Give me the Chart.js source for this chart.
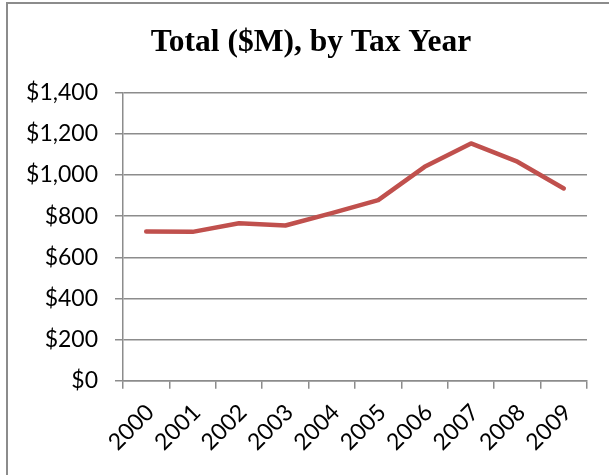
<!DOCTYPE html>
<html>
<head>
<meta charset="utf-8">
<script src="https://cdn.jsdelivr.net/npm/chart.js@4"></script>
<style>
  html, body { margin: 0; padding: 0; background: #fff; overflow: hidden; }
  #wrap { position: relative; width: 609px; height: 475px; }
  #frame { position: absolute; left: 6px; top: 2px; width: 640px; height: 500px; border: 2px solid #8c8c8c; box-sizing: border-box; }
  canvas { position: absolute; left: 0; top: 0; }
</style>
</head>
<body>
<div id="wrap">
  <div id="frame"></div>
  <canvas id="chart" width="609" height="475"></canvas>
</div>
<script>
  // Total ($M) per tax year
  const years = ['2000', '2001', '2002', '2003', '2004', '2005', '2006', '2007', '2008', '2009'];
  const totals = [726, 724, 766, 755, 815, 878, 1040, 1154, 1065, 935];
  const yTicks = [0, 200, 400, 600, 800, 1000, 1200, 1400];

  const axisGray = '#8c8c8c';
  const labelFont = { family: 'Lato, "Open Sans", sans-serif', size: 23 };

  function money(v) {
    return '$' + Number(v).toLocaleString('en-US');
  }

  // the title sits a little right of the canvas centre in the original
  const titleShift = {
    id: 'titleShift',
    afterLayout(chart) {
      if (chart.titleBlock) chart.titleBlock.left += 35;
    },
  };

  new Chart(document.getElementById('chart'), {
    type: 'line',
    data: {
      labels: years,
      datasets: [{
        label: 'Total',
        data: totals,
        borderColor: '#C0504D',
        borderWidth: 4.5,
        borderCapStyle: 'round',
        borderJoinStyle: 'round',
        pointRadius: 0,
        tension: 0,
        fill: false,
      }],
    },
    plugins: [titleShift],
    options: {
      responsive: false,
      animation: false,
      layout: { padding: { left: 0, right: 22, top: 10, bottom: 9 } },
      plugins: {
        legend: { display: false },
        tooltip: { enabled: false },
        title: {
          display: true,
          text: 'Total ($M), by Tax Year',
          color: '#000',
          font: { family: '"Liberation Serif", "Times New Roman", serif', size: 31.5, weight: 'bold' },
          padding: { top: 14, bottom: 31 },
        },
      },
      scales: {
        x: {
          type: 'category',
          offset: true,
          grid: { offset: true, drawOnChartArea: false, drawTicks: true, tickLength: 8, color: axisGray, lineWidth: 1.5 },
          border: { display: true, color: axisGray, width: 1.5 },
          ticks: { color: '#000', font: labelFont, minRotation: 45, maxRotation: 45, padding: 10, labelOffset: 4 },
        },
        y: {
          min: 0,
          max: 1400,
          afterBuildTicks: (s) => { s.ticks = yTicks.map((v) => ({ value: v })); },
          afterFit: (s) => { s.width = 123; },
          grid: { color: axisGray, lineWidth: 1.5, tickLength: 8 },
          border: { display: true, color: axisGray, width: 1.5 },
          ticks: { color: '#000', font: labelFont, padding: 17, callback: (v) => money(v) },
        },
      },
    },
  });
</script>
</body>
</html>
